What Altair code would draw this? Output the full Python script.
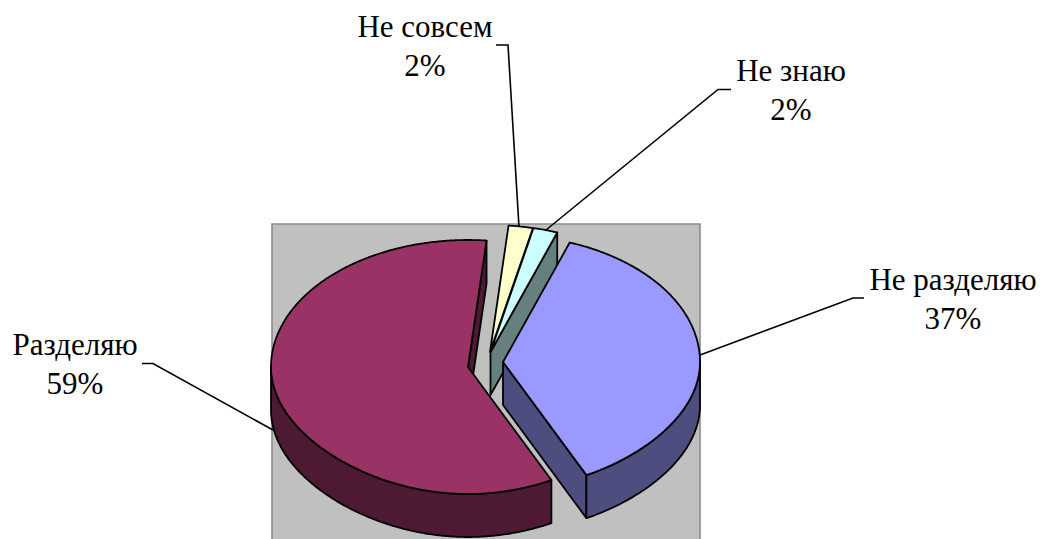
import math
import altair as alt

# Survey answers and their shares, percent
categories = ["Разделяю", "Не совсем", "Не знаю", "Не разделяю"]
shares = [59, 2, 2, 37]

# Layout: pixel geometry of the exploded 3D pie
top_colors = ["#993366", "#ffffcc", "#ccffff", "#9999ff"]
side_colors = ["#4d1933", "#808066", "#668080", "#4d4d80"]
apexes = [(468, 367), (490, 352), (490.5, 352), (503, 362)]
RX, RY, DEPTH = 197, 127, 43
START_DEG = 153
FRONT_PINCH = 0.085  # narrows the near half of the ellipse a little

label_centers = [(75, 355), (425, 37), (791, 81), (953, 290)]
LINE_GAP = 38.5
leaders = [
    [(142, 363.5), (153, 363.5), (273, 430)],
    [(496, 45), (508, 45), (519, 227)],
    [(731, 89.5), (718, 89.5), (546, 230)],
    [(864, 298), (853, 298), (700, 355)],
]
frame = [(272, 224), (700, 224), (700, 541), (272, 541), (272, 224)]


def rim(apex, deg, drop=0):
    a = math.radians(deg)
    near = max(0.0, -math.cos(a))
    x = RX * math.sin(a) * (1 - FRONT_PINCH * near * near)
    return (apex[0] + x, apex[1] - RY * math.cos(a) + drop)


def arc(apex, a0, a1, drop=0):
    n = max(2, int(abs(a1 - a0) * 2))
    return [rim(apex, a0 + (a1 - a0) * i / n, drop) for i in range(n + 1)]


def polygon(points, fill):
    ring = [list(p) for p in points]
    ring.append(ring[0])
    return {
        "type": "Feature",
        "properties": {"fill": fill},
        "geometry": {"type": "Polygon", "coordinates": [ring]},
    }


def radial_wall(apex, deg, fill):
    return polygon([apex, rim(apex, deg), rim(apex, deg, DEPTH),
                    (apex[0], apex[1] + DEPTH)], fill)


def curved_wall(apex, a0, a1, fill):
    return polygon(arc(apex, a0, a1) + arc(apex, a1, a0, DEPTH), fill)


# Slice sweeps run clockwise from the screen top, derived from the shares
spans = []
angle = START_DEG
for share in shares:
    spans.append((angle, angle + share * 3.6))
    angle += share * 3.6

tops = [polygon([apexes[i]] + arc(apexes[i], *spans[i]), top_colors[i]) for i in range(4)]

# Painted back to front: small slices, then the large one, then the right one
features = [
    radial_wall(apexes[2], spans[2][1], side_colors[2]),
    tops[1],
    tops[2],
    radial_wall(apexes[0], spans[0][1], side_colors[0]),
    curved_wall(apexes[0], spans[0][0], 270, side_colors[0]),
    tops[0],
    radial_wall(apexes[3], spans[3][1], side_colors[3]),
    curved_wall(apexes[3], 90 + 360, spans[3][1], side_colors[3]),
    tops[3],
]

PROJECTION = dict(type="identity", scale=1, translate=[0, 0])

backdrop = alt.Chart(
    alt.Data(values=[polygon(frame[:-1], "#c0c0c0")])
).mark_geoshape(fill="#c0c0c0", stroke="#8c8c8c", strokeWidth=1.6).project(**PROJECTION)

pie = alt.Chart(alt.Data(values=features)).mark_geoshape(
    stroke="#000000", strokeWidth=1.8, strokeJoin="round"
).encode(
    fill=alt.Fill("properties.fill:N", scale=None, legend=None)
).project(**PROJECTION)

leader_features = [
    {
        "type": "Feature",
        "properties": {"name": categories[i]},
        "geometry": {"type": "LineString", "coordinates": [list(p) for p in leaders[i]]},
    }
    for i in range(4)
]
leader_lines = alt.Chart(alt.Data(values=leader_features)).mark_geoshape(
    filled=False, stroke="#000000", strokeWidth=1.6
).project(**PROJECTION)

label_rows = []
for name, share, (cx, base) in zip(categories, shares, label_centers):
    label_rows.append({"text": name, "lon": cx, "lat": base})
    label_rows.append({"text": f"{share}%", "lon": cx, "lat": base + LINE_GAP})

labels = alt.Chart(alt.Data(values=label_rows)).mark_text(
    font="Liberation Serif", fontSize=31, color="#000000",
    align="center", baseline="alphabetic"
).encode(
    longitude="lon:Q", latitude="lat:Q", text="text:N"
).project(**PROJECTION)

chart = alt.layer(backdrop, pie, leader_lines, labels).properties(
    width=1042, height=539, padding=0, autosize=alt.AutoSizeParams(type="none"),
    background="#ffffff"
).configure_view(stroke=None)

chart.save("out.html", embed_options={"renderer": "svg", "actions": False})
